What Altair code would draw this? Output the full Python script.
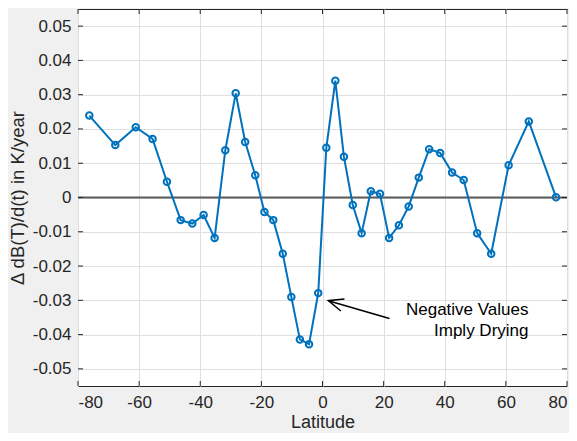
import altair as alt
import pandas as pd

# ---- data ----
lat = [-76.3, -67.8, -61.1, -55.6, -50.9, -46.4, -42.6, -38.9, -35.3, -31.8,
       -28.4, -25.3, -22.0, -19.0, -16.1, -13.0, -10.2, -7.4, -4.4, -1.4,
       1.25, 4.2, 7.0, 9.9, 12.8, 15.8, 18.8, 21.8, 25.0, 28.2,
       31.5, 34.9, 38.5, 42.4, 46.2, 50.6, 55.2, 60.9, 67.5, 76.4]
vals = [0.0239, 0.0153, 0.0205, 0.0171, 0.0046, -0.0066, -0.0076, -0.0051, -0.0118, 0.0138,
        0.0304, 0.0162, 0.0065, -0.0042, -0.0066, -0.0164, -0.0290, -0.0414, -0.0428, -0.0279,
        0.0145, 0.0341, 0.0119, -0.0022, -0.0104, 0.0018, 0.0011, -0.0118, -0.0081, -0.0026,
        0.0058, 0.0141, 0.0130, 0.0073, 0.0051, -0.0104, -0.0164, 0.0094, 0.0222, 0.0001]

x_ticks = [-80, -60, -40, -20, 0, 20, 40, 60, 80]
y_ticks = [-0.05, -0.04, -0.03, -0.02, -0.01, 0.0, 0.01, 0.02, 0.03, 0.04, 0.05]

# annotation
arrow_head = (1.9, -0.0301)
arrow_tail = (21.9, -0.0353)
note_lines = ["Negative Values", "Imply Drying"]
note_lat = [67.4, 67.4]
note_val = [-0.0327, -0.0390]

W, H = 489, 377
TXT = "#262626"
BLUE = "#0072BD"

xs = alt.Scale(domain=[-80, 80], nice=False, zero=False)
ys = alt.Scale(domain=[-0.055, 0.055], nice=False, zero=False)

df = pd.DataFrame({"lat": lat, "val": vals})

x_axis = alt.Axis(values=x_ticks, grid=True, gridColor="#dfdfdf", gridWidth=1,
                  domain=False, ticks=False, labelPadding=8, labelFontSize=17,
                  labelColor=TXT, labelOverlap=False, title="Latitude", titleFontSize=18,
                  titleFontWeight="normal", titleColor=TXT, titlePadding=3,
                  labelExpr="datum.value < 0 ? '-' + (-datum.value) : '' + datum.value")
y_axis = alt.Axis(values=y_ticks, grid=True, gridColor="#dfdfdf", gridWidth=1,
                  domain=False, ticks=False, labelPadding=7, labelFontSize=17,
                  labelColor=TXT, labelOverlap=False, title="Δ dB(T)/d(t) in K/year",
                  titleFontSize=18.5, titleFontWeight="normal", titleColor=TXT, titlePadding=5,
                  labelExpr="abs(datum.value) < 1e-9 ? '0' : (datum.value < 0 ? '-' + format(-datum.value, '.2f') : format(datum.value, '.2f'))")

XA = lambda: alt.X("lat:Q", scale=xs, axis=x_axis)
YA = lambda: alt.Y("val:Q", scale=ys, axis=y_axis)

base = alt.Chart(df)

zero = alt.Chart(pd.DataFrame({"val": [0.0]})).mark_rule(
    color="#5c5c5c", strokeWidth=2
).encode(y=YA())

line = base.mark_line(color=BLUE, strokeWidth=2).encode(x=XA(), y=YA())
pts = base.mark_point(color=BLUE, filled=False, size=42, strokeWidth=2, opacity=1).encode(
    x=XA(), y=YA())

xt = alt.Chart(pd.DataFrame({"lat": x_ticks}))
yt = alt.Chart(pd.DataFrame({"val": y_ticks}))
tick_style = dict(color=TXT, strokeWidth=1)
xt_bot = xt.mark_rule(**tick_style).encode(x=XA(), y=alt.value(H), y2=alt.value(H - 5))
xt_top = xt.mark_rule(**tick_style).encode(x=XA(), y=alt.value(0), y2=alt.value(5))
yt_left = yt.mark_rule(**tick_style).encode(y=YA(), x=alt.value(0), x2=alt.value(5))
yt_right = yt.mark_rule(**tick_style).encode(y=YA(), x=alt.value(W), x2=alt.value(W - 5))

arrow_df = pd.DataFrame({"lat": [arrow_tail[0]], "val": [arrow_tail[1]],
                         "lat2": [arrow_head[0]], "val2": [arrow_head[1]]})
shaft = alt.Chart(arrow_df).mark_rule(color="black", strokeWidth=1.5).encode(
    x=XA(), y=YA(), x2="lat2:Q", y2="val2:Q")
head = alt.Chart(pd.DataFrame({"lat": [arrow_head[0]], "val": [arrow_head[1]]})).mark_point(
    shape="M1,-0.42 L0,0 L1,0.42", filled=False, color="black", strokeWidth=1.5,
    size=900, angle=16.7, opacity=1
).encode(x=XA(), y=YA())

note = alt.Chart(pd.DataFrame({"lat": note_lat, "val": note_val, "t": note_lines})).mark_text(
    align="right", baseline="middle", fontSize=17, color="black"
).encode(x=XA(), y=YA(), text="t:N")

chart = alt.layer(
    zero, line, pts, xt_bot, xt_top, yt_left, yt_right, shaft, head, note
).properties(
    width=W, height=H,
    autosize=alt.AutoSizeParams(type="none"),
    padding={"left": 70, "top": 1, "right": 2, "bottom": 47},
    background="#f0f0f0",
).configure(
    font="Liberation Sans",
).configure_axis(
    labelOverlap=False,
).configure_view(
    fill="white", stroke=TXT, strokeWidth=1
)

chart.save("out.html", embed_options={"renderer": "svg", "actions": False})
